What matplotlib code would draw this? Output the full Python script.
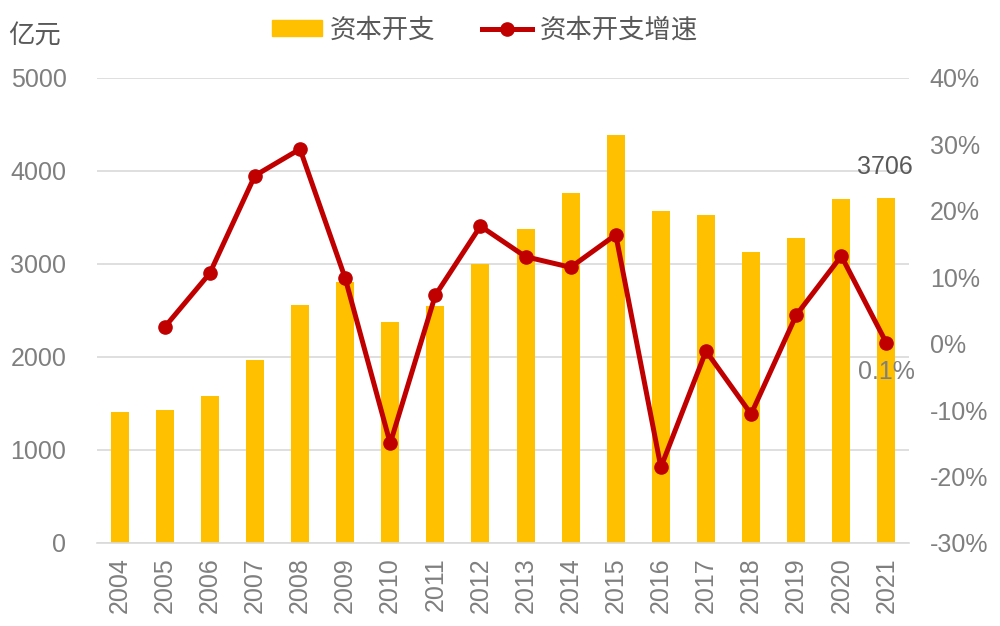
import numpy as np
import matplotlib.pyplot as plt
from matplotlib.patches import Patch
from matplotlib.lines import Line2D

plt.rcParams['font.family'] = ['Liberation Sans', 'Noto Sans CJK SC', 'DejaVu Sans']

years = ['2004', '2005', '2006', '2007', '2008', '2009', '2010', '2011', '2012',
         '2013', '2014', '2015', '2016', '2017', '2018', '2019', '2020', '2021']
capex = [1405, 1430, 1580, 1968, 2555, 2806, 2376, 2548, 3000,
         3376, 3763, 4387, 3570, 3527, 3129, 3280, 3699, 3706]
growth_years = years[1:]
growth = [2.5, 10.6, 25.3, 29.3, 9.9, -15.0, 7.3, 17.7, 13.1,
          11.5, 16.4, -18.6, -1.1, -10.6, 4.3, 13.2, 0.1]

gray = '#7f7f7f'
bar_color = '#FFC000'
line_color = '#C00000'

fig = plt.figure(figsize=(10, 6.26), dpi=100)
ax1 = fig.add_axes([0.097, 0.1326, 0.812, 0.7428])
ax2 = ax1.twinx()

x = np.arange(len(years))
ax1.bar(x, capex, width=0.4, color=bar_color, zorder=2)
ax1.set_ylim(0, 5000)
ax1.set_yticks(range(0, 5001, 1000))
ax1.set_xlim(-0.5, len(years) - 0.5)
ax1.set_xticks(x)
ax1.set_xticklabels(years, rotation=90)
ax1.grid(axis='y', color='#d9d9d9', linewidth=1.2, zorder=0)
ax1.set_axisbelow(True)

gx = np.array([years.index(y) for y in growth_years])
ax2.plot(gx, growth, color=line_color, linewidth=3.6, marker='o', markersize=9.5, zorder=3)
ax2.set_ylim(-30, 40)
ax2.set_yticks(range(-30, 41, 10))
ax2.set_yticklabels(['%d%%' % v for v in range(-30, 41, 10)])

for ax in (ax1, ax2):
    for s in ax.spines.values():
        s.set_visible(False)
ax1.spines['bottom'].set_visible(True)
ax1.spines['bottom'].set_color('#d9d9d9')
ax1.spines['bottom'].set_linewidth(1.2)

ax1.tick_params(axis='y', length=0, pad=22, labelsize=18, labelcolor=gray)
ax1.tick_params(axis='x', length=0, pad=10, labelsize=18, labelcolor=gray)
ax2.tick_params(axis='y', length=0, pad=15, labelsize=18, labelcolor=gray)

ax1.annotate(str(capex[-1]), (x[-1], capex[-1]), xytext=(-1, 14), textcoords='offset points',
             ha='center', va='bottom', fontsize=18, color='#595959')
ax2.annotate('%.1f%%' % growth[-1], (gx[-1], growth[-1]), xytext=(0, -12), textcoords='offset points',
             ha='center', va='top', fontsize=18, color=gray)

fig.text(0.008, 0.942, '亿元', fontsize=19, color='#595959', va='center', ha='left')

handles = [Patch(color=bar_color),
           Line2D([0], [0], color=line_color, linewidth=3.6, marker='o', markersize=9.5)]
fig.legend(handles, ['资本开支', '资本开支增速'], loc='center', bbox_to_anchor=(0.485, 0.952),
           ncol=2, frameon=False, fontsize=19, labelcolor='#595959',
           handlelength=1.9, handletextpad=0.3, columnspacing=1.75, handleheight=0.5)

fig.savefig('out.png', dpi=100)
